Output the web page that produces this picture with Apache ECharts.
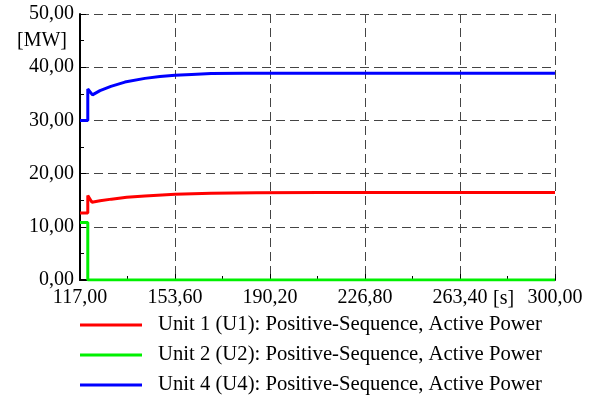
<!DOCTYPE html>
<html>
<head>
<meta charset="utf-8">
<script src="https://cdn.jsdelivr.net/npm/echarts@6/dist/echarts.min.js"></script>
<style>
  html, body { margin: 0; padding: 0; background: #ffffff; }
  #chart { width: 593px; height: 400px; }
</style>
</head>
<body>
<div id="chart"></div>
<script>
// Simulation window [s]
const timeStart = 117.0;
const timeEnd = 300.0;
const timeStep = 36.6;

// Unit 1 (U1) active power [MW]
const u1Time = [117.0, 120.0, 120.0, 120.4, 121.6, 124.7, 129.1, 135.0, 142.0, 153.6, 167.5, 185.0, 210.0, 300.0];
const u1Power = [12.6, 12.6, 15.9, 15.9, 14.6, 14.9, 15.2, 15.55, 15.8, 16.1, 16.3, 16.4, 16.45, 16.45];

// Unit 2 (U2) active power [MW]
const u2Time = [117.0, 120.0, 120.0, 300.0];
const u2Power = [10.8, 10.8, 0.0, 0.0];

// Unit 4 (U4) active power [MW]
const u4Time = [117.0, 120.0, 120.0, 120.4, 121.8, 124.7, 128.9, 134.3, 142.0, 147.8, 153.6, 160.0, 167.5, 180.0, 200.0, 300.0];
const u4Power = [30.0, 30.0, 35.9, 35.9, 34.8, 35.6, 36.4, 37.2, 37.9, 38.25, 38.5, 38.65, 38.8, 38.85, 38.85, 38.85];

const seriesNames = [
  'Unit 1 (U1): Positive-Sequence, Active Power',
  'Unit 2 (U2): Positive-Sequence, Active Power',
  'Unit 4 (U4): Positive-Sequence, Active Power'
];
const seriesColors = ['#ff0000', '#00f000', '#0000ff'];

// x axis runs on time elapsed since timeStart so ticks fall on the window grid
function toPairs(times, values) {
  return times.map((t, i) => [t - timeStart, values[i]]);
}
function fmt(v) {
  return v.toFixed(2).replace('.', ',');
}

const FONT = 'Liberation Serif';
const chart = echarts.init(document.getElementById('chart'), null, { renderer: 'canvas' });

const gridLine = { show: true, lineStyle: { color: '#444', width: 1, type: [9, 5] } };

chart.setOption({
  animation: false,
  backgroundColor: '#ffffff',
  grid: { left: 80, right: 38, top: 14, bottom: 120 },
  xAxis: {
    type: 'value',
    min: 0,
    max: timeEnd - timeStart,
    interval: timeStep,
    axisLine: { show: true, onZero: false, lineStyle: { color: '#000', width: 2 } },
    axisTick: { show: true, inside: true, length: 6, lineStyle: { color: '#000' } },
    minorTick: { show: true, splitNumber: 2, length: 4, lineStyle: { color: '#000' } },
    splitLine: gridLine,
    axisLabel: {
      color: '#000', fontFamily: FONT, fontSize: 20, margin: 8,
      formatter: v => fmt(v + timeStart)
    }
  },
  yAxis: {
    type: 'value',
    min: 0,
    max: 50,
    interval: 10,
    axisLine: { show: true, lineStyle: { color: '#000', width: 2 } },
    axisTick: { show: true, inside: true, length: 6, lineStyle: { color: '#000' } },
    minorTick: { show: true, splitNumber: 2, length: 4, lineStyle: { color: '#000' } },
    splitLine: gridLine,
    axisLabel: { color: '#000', fontFamily: FONT, fontSize: 20, margin: 6, formatter: v => fmt(v) }
  },
  legend: {
    orient: 'vertical',
    left: 80,
    top: 314,
    height: 86,
    padding: 0,
    icon: 'rect',
    itemWidth: 62,
    itemHeight: 3,
    itemGap: 8,
    selectedMode: false,
    textStyle: { color: '#000', fontFamily: FONT, fontSize: 20.7, lineHeight: 22, padding: [0, 0, 0, 11] },
    data: seriesNames
  },
  graphic: [
    { type: 'text', left: 17, top: 31, style: { text: '[MW]', fill: '#000', font: '20px "Liberation Serif"' } },
    { type: 'text', left: 493, top: 289, style: { text: '[s]', fill: '#000', font: '20px "Liberation Serif"' } }
  ],
  series: [
    { name: seriesNames[2], type: 'line', data: toPairs(u4Time, u4Power), color: seriesColors[2] },
    { name: seriesNames[0], type: 'line', data: toPairs(u1Time, u1Power), color: seriesColors[0] },
    { name: seriesNames[1], type: 'line', data: toPairs(u2Time, u2Power), color: seriesColors[1] }
  ].map(s => Object.assign(s, { showSymbol: false, lineStyle: { width: 3 }, clip: true }))
});
</script>
</body>
</html>
